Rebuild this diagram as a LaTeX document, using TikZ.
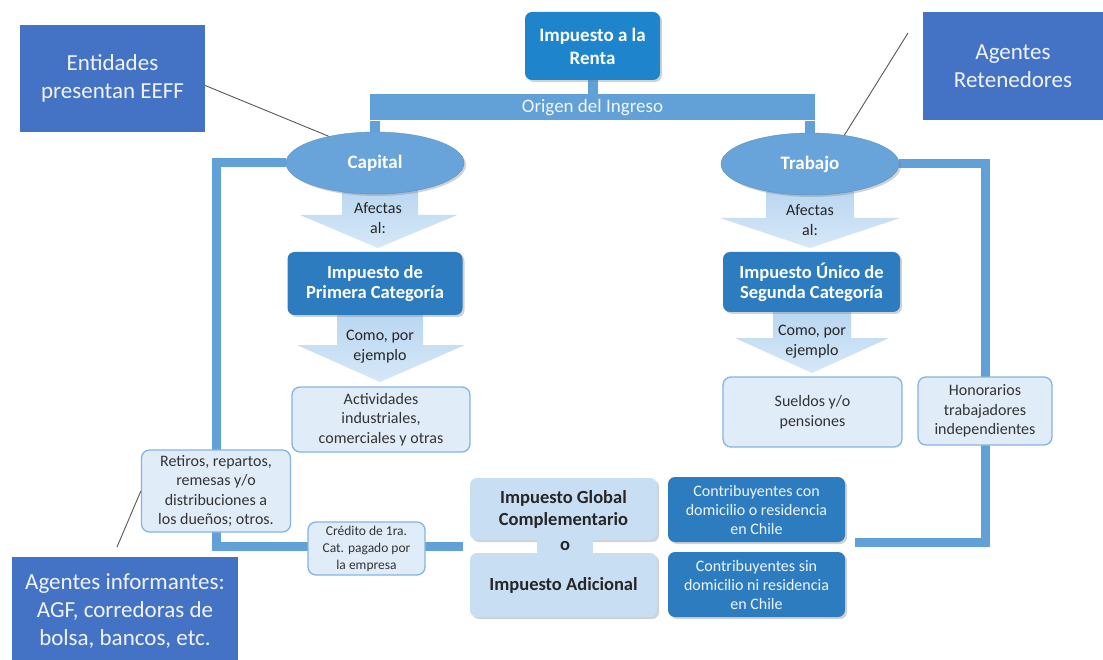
\documentclass[tikz,border=0pt]{standalone}
\usepackage{fontspec}
\setmainfont{Carlito}
\usepackage{tikz}
\usetikzlibrary{positioning,shapes,shadows,calc,backgrounds}
\newcommand\setfs[2]{\fontsize{#1}{#2}\selectfont}
\definecolor{agentblue}{RGB}{68,114,196}
\definecolor{rentablue}{RGB}{30,132,204}
\definecolor{catblue}{RGB}{46,124,192}
\definecolor{ovalfill}{RGB}{104,164,218}
\definecolor{ovalline}{RGB}{86,146,204}
\definecolor{lineblue}{RGB}{98,160,216}
\definecolor{notefill}{RGB}{224,237,249}
\definecolor{noteline}{RGB}{132,180,226}
\definecolor{globfill}{RGB}{200,222,242}
\definecolor{arrowtop}{RGB}{184,213,240}
\definecolor{arrowbot}{RGB}{214,232,248}
\tikzset{
  soft shadow/.style={
    drop shadow={shadow xshift=2pt,shadow yshift=-2pt,opacity=0.35}
  },
  agent/.style={
    fill=agentblue,
    text=white!92!agentblue,
    align=center,
    inner sep=2pt,
    font=\setfs{23}{28}
  },
  headbox/.style={
    rounded corners=7pt,
    fill=rentablue,
    text=white,
    align=center,
    inner sep=2pt,
    font=\bfseries\setfs{19}{23},
    soft shadow
  },
  catbox/.style={
    rounded corners=7pt,
    fill=catblue,
    text=white,
    align=center,
    inner sep=2pt,
    soft shadow
  },
  notebox/.style={
    rounded corners=8pt,
    fill=notefill,
    draw=noteline,
    line width=1.3pt,
    align=center,
    inner sep=2pt,
    text=black!80,
    font=\setfs{16}{19.5}
  },
  globbox/.style={
    rounded corners=7pt,
    fill=globfill,
    align=center,
    inner sep=2pt,
    text=black!85,
    font=\bfseries\setfs{18.5}{22},
    soft shadow
  },
  oval/.style={
    ellipse,
    fill=ovalfill,
    draw=ovalline,
    text=white,
    inner sep=0pt,
    minimum width=178pt,
    minimum height=62pt,
    font=\bfseries\setfs{19}{23},
    soft shadow
  },
  fatarrow/.style={top color=arrowtop,bottom color=arrowbot,draw=none},
  arrowtxt/.style={align=center,text=black!85,font=\setfs{16}{20}},
  loopline/.style={draw=lineblue,line width=9pt},
  callout/.style={draw=black!65,line width=0.9pt}
}

\begin{document}
\begin{tikzpicture}[x=1pt,y=-1pt]
  \useasboundingbox (0,0) rectangle (1103,660);

  % boxes at the top
  \node[agent,minimum width=185pt,minimum height=107pt] (entidades) at (112.5,78.5) {Entidades\\presentan EEFF};
  \node[agent,minimum width=180pt,minimum height=108pt] (retenedores) at (1013,66) {Agentes\\Retenedores};
  \node[headbox,minimum width=135pt,minimum height=68pt] (renta) at (592.5,46) {Impuesto a la\\Renta};
  \node[fill=lineblue,text=white!92!lineblue,minimum width=445pt,minimum height=26pt,inner sep=0pt,font=\setfs{19}{23}] (origen) at (592.5,107.5) {Origen del Ingreso};

  % the two sources
  \node[oval] (capital) at (375,163) {Capital};
  \node[oval] (trabajo) at (810,164) {Trabajo};

  % capital column
  \node[catbox,minimum width=175pt,minimum height=63pt,font=\bfseries\setfs{18.5}{20}] (primera) [below=120.5pt of capital.center,anchor=center] {Impuesto de\\Primera Categoría};
  \node[notebox,minimum width=178pt,minimum height=65pt] (actividades) at (381,419.5) {Actividades\\industriales,\\comerciales y otras};
  \node[arrowtxt] (afectasA) at (378,218) {Afectas\\al:};
  \node[arrowtxt] (comoA) at (380,347) {Como, por\\ejemplo};

  % trabajo column
  \node[catbox,minimum width=177pt,minimum height=60pt,font=\bfseries\setfs{18.5}{20}] (segunda) at (811.5,282) {Impuesto Único de\\Segunda Categoría};
  \node[notebox,minimum width=179pt,minimum height=70pt] (sueldos) at (812.5,412) {Sueldos y/o\\pensiones};
  \node[arrowtxt] (afectasB) at (810,220) {Afectas\\al:};
  \node[arrowtxt] (comoB) at (812,342) {Como, por\\ejemplo};
  \node[notebox,minimum width=134pt,minimum height=68pt] (honor) at (985,411) {Honorarios\\trabajadores\\independientes};

  % bottom
  \node[notebox,minimum width=149pt,minimum height=82pt] (retiros) at (216,491) {Retiros, repartos,\\remesas y/o\\distribuciones a\\los dueños; otros.};
  \node[notebox,minimum width=117pt,minimum height=53pt,font=\setfs{13.5}{17}] (credito) at (366.5,548.5) {Crédito de 1ra.\\Cat. pagado por\\la empresa};
  \node[globbox,minimum width=187pt,minimum height=62pt] (global) at (563.5,509) {Impuesto Global\\Complementario};
  \node[globbox,minimum width=187pt,minimum height=64pt] (adicional) at (563.5,585) {Impuesto Adicional};
  \node[fill=globfill,minimum width=56pt,minimum height=18pt,inner sep=0pt,text=black!85,font=\bfseries\setfs{18.5}{22}] (obox) at (565,546.5) {o};
  \node[catbox,minimum width=177pt,minimum height=65pt,text=white!92!catblue,font=\setfs{16}{19}] (concon) at (756.5,509.5) {Contribuyentes con\\domicilio o residencia\\en Chile};
  \node[catbox,minimum width=177pt,minimum height=65pt,text=white!92!catblue,font=\setfs{16}{19}] (consin) at (756.5,584.5) {Contribuyentes sin\\domicilio ni residencia\\en Chile};
  \node[agent,minimum width=226pt,minimum height=108pt] (informantes) at (125,611) {Agentes informantes:\\AGF, corredoras de\\bolsa, bancos, etc.};

  \coordinate (gin) at (463,546);
  \coordinate (din) at (855,542);
  \coordinate (rettip) at (908,33);
  \coordinate (inftip) at (117,547);

  \begin{scope}[on background layer]
    \fill[white] (0,0) rectangle (1103,660);
    % connectors
    \draw[loopline,line width=10pt] (renta.south) -- (origen.north);
    \draw[loopline,line width=10pt] (origen.south -| capital.north) -- (capital.north);
    \draw[loopline,line width=10pt] (origen.south -| trabajo.north) -- (trabajo.north);
    \draw[loopline] (capital.west) -| (retiros.center) |- (gin);
    \draw[loopline] (trabajo.east) -| (honor.center) |- (din);
    % block arrows
    \path[fatarrow] (342,185) -- (418,185) -- (418,215) -- (457,215) -- (378,248) -- (300,215) -- (342,215) -- cycle;
    \path[fatarrow] (337,310) -- (423,310) -- (423,345) -- (465,345) -- (380,382) -- (297,345) -- (337,345) -- cycle;
    \path[fatarrow] (766,185) -- (854,185) -- (854,218) -- (900,218) -- (810,248) -- (720,218) -- (766,218) -- cycle;
    \path[fatarrow] (773,307) -- (851,307) -- (851,338) -- (889,338) -- (812,373) -- (735,338) -- (773,338) -- cycle;
  \end{scope}

  \draw[callout] ([yshift=-7pt]entidades.east) -- (capital.150);
  \draw[callout] (rettip) -- (trabajo.40);
  \draw[callout] (retiros.west) -- (inftip);
\end{tikzpicture}
\end{document}
